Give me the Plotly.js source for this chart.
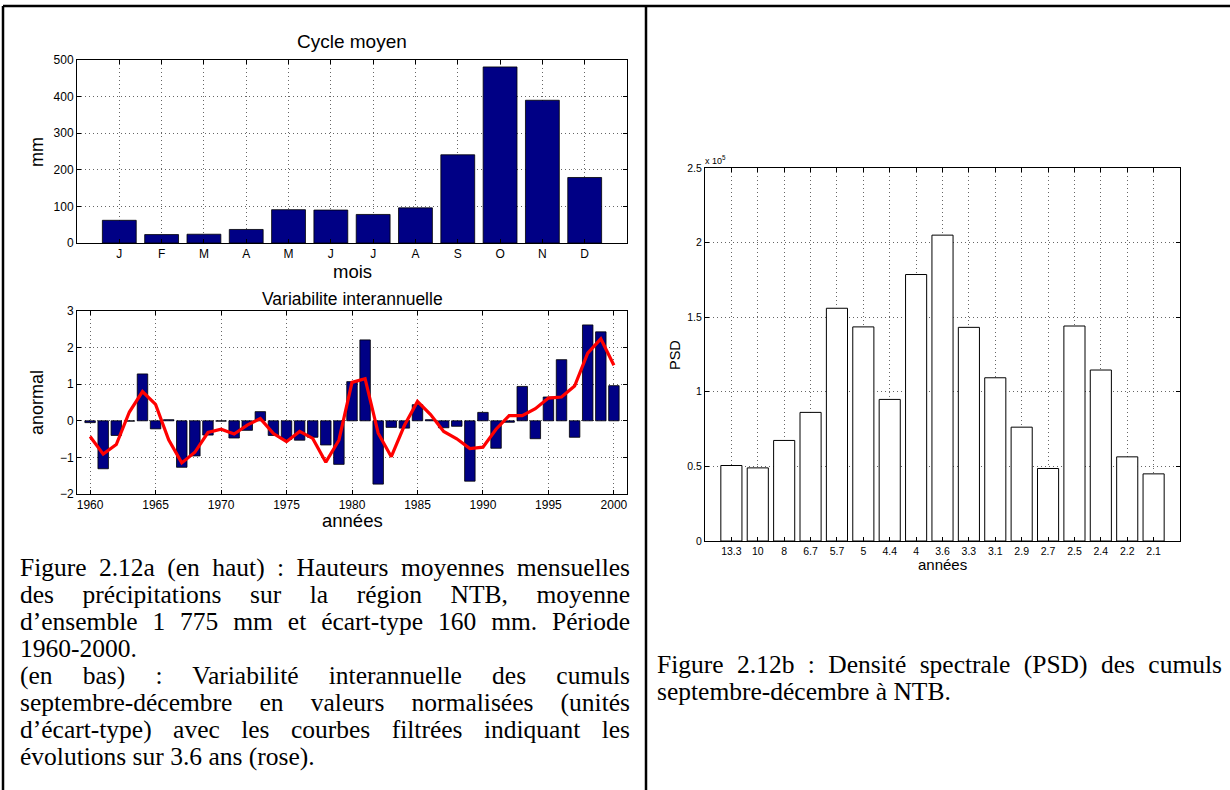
<!DOCTYPE html>
<html>
<head>
<meta charset="utf-8">
<script src="https://cdn.plot.ly/plotly-3.0.1.min.js"></script>
<style>
  html, body { margin: 0; padding: 0; background: #fff; }
  #page { position: relative; width: 1230px; height: 790px; overflow: hidden; }
  #chart { position: absolute; left: 0; top: 0; width: 1230px; height: 790px; }
  .cap { position: absolute; font-family: 'Liberation Serif', 'Times New Roman', serif;
         font-size: 25.5px; color: #000; white-space: nowrap; }
  .just { text-align: justify; text-align-last: justify; white-space: normal; }
</style>
</head>
<body>
<div id="page">
  <div id="chart"></div>
</div>
<script>
// Mean monthly rainfall (mm)
const monthLabels = ['J', 'F', 'M', 'A', 'M', 'J', 'J', 'A', 'S', 'O', 'N', 'D'];
const monthPos = [1, 2, 3, 4, 5, 6, 7, 8, 9, 10, 11, 12];
const monthlyMm = [62, 23, 24, 37, 91, 90, 78, 96, 241, 481, 390, 179];

// Sept-Dec totals, standardised anomalies, and the 3.6-year filtered curve
const years = [1960, 1961, 1962, 1963, 1964, 1965, 1966, 1967, 1968, 1969,
               1970, 1971, 1972, 1973, 1974, 1975, 1976, 1977, 1978, 1979,
               1980, 1981, 1982, 1983, 1984, 1985, 1986, 1987, 1988, 1989,
               1990, 1991, 1992, 1993, 1994, 1995, 1996, 1997, 1998, 1999, 2000];
const anomaly = [-0.05, -1.31, -0.40, -0.01, 1.28, -0.22, 0.03, -1.27, -0.96, -0.39,
                 -0.01, -0.47, -0.26, 0.25, -0.40, -0.51, -0.53, -0.45, -0.66, -1.19,
                 1.07, 2.21, -1.73, -0.18, -0.20, 0.44, 0.03, -0.19, -0.15, -1.65,
                 0.23, -0.75, -0.04, 0.94, -0.49, 0.65, 1.67, -0.45, 2.62, 2.43, 0.96];
const filtered = [-0.43, -0.91, -0.65, 0.24, 0.80, 0.45, -0.52, -1.15, -0.86, -0.32,
                  -0.23, -0.36, -0.12, 0.06, -0.35, -0.57, -0.29, -0.48, -1.13, -0.53,
                  1.05, 1.15, -0.34, -0.98, -0.13, 0.53, 0.17, -0.29, -0.49, -0.76,
                  -0.72, -0.23, 0.14, 0.14, 0.33, 0.62, 0.65, 0.95, 1.85, 2.24, 1.52];
const yearTicks = [1960, 1965, 1970, 1975, 1980, 1985, 1990, 1995, 2000];

// Power spectral density of the Sept-Dec totals, by period (years)
const periodLabels = ['13.3', '10', '8', '6.7', '5.7', '5', '4.4', '4', '3.6',
                      '3.3', '3.1', '2.9', '2.7', '2.5', '2.4', '2.2', '2.1'];
const periodPos = [1, 2, 3, 4, 5, 6, 7, 8, 9, 10, 11, 12, 13, 14, 15, 16, 17];
const psd = [50600, 49000, 67400, 86200, 156000, 143500, 94900, 178600, 205000,
             143200, 109400, 76300, 48600, 144100, 114600, 56400, 45000];
const psdTicks = [0, 50000, 100000, 150000, 200000, 250000];
const psdTickText = ['0', '0.5', '1', '1.5', '2', '2.5'];

const W = 1230, H = 790;
const fx = p => p / W;
const fy = p => 1 - p / H;

const sans = 'Liberation Sans, Arial, Helvetica, sans-serif';

function boxAxis(extra) {
  return Object.assign({
    showline: true, linecolor: '#000', linewidth: 1, mirror: 'ticks',
    ticks: 'inside', ticklen: 4, tickcolor: '#000', tickwidth: 1,
    showgrid: true, gridcolor: '#666', gridwidth: 1, griddash: '1px,3px',
    zeroline: false, fixedrange: true,
    tickfont: { family: sans, size: 12, color: '#000' }
  }, extra);
}

const traces = [
  {
    type: 'bar', x: monthPos, y: monthlyMm, xaxis: 'x', yaxis: 'y', width: 0.8,
    marker: { color: '#000085', line: { color: '#000', width: 0.8 } }, hoverinfo: 'skip'
  },
  {
    type: 'bar', x: years, y: anomaly, xaxis: 'x2', yaxis: 'y2', width: 0.8,
    marker: { color: '#000085', line: { color: '#000', width: 0.8 } }, hoverinfo: 'skip'
  },
  {
    type: 'scatter', mode: 'lines', x: years, y: filtered, xaxis: 'x2', yaxis: 'y2',
    line: { color: '#ff0000', width: 3.2 }, hoverinfo: 'skip'
  },
  {
    type: 'bar', x: periodPos, y: psd, xaxis: 'x3', yaxis: 'y3', width: 0.8,
    marker: { color: '#ffffff', line: { color: '#000', width: 1 } }, hoverinfo: 'skip'
  }
];

const layout = {
  width: W, height: H, showlegend: false,
  margin: { l: 0, r: 0, t: 0, b: 0 },
  paper_bgcolor: '#fff', plot_bgcolor: '#fff',
  bargap: 0,
  xaxis: boxAxis({ domain: [fx(77), fx(627)], anchor: 'y', range: [0, 13],
                   tickmode: 'array', tickvals: monthPos, ticktext: monthLabels }),
  yaxis: boxAxis({ domain: [fy(243), fy(60)], anchor: 'x', range: [0, 500], dtick: 100 }),
  xaxis2: boxAxis({ domain: [fx(77), fx(627)], anchor: 'y2', range: [1959, 2001],
                    tickmode: 'array', tickvals: yearTicks }),
  yaxis2: boxAxis({ domain: [fy(494), fy(311)], anchor: 'x2', range: [-2, 3], dtick: 1,
                    tickformat: 'd' }),
  xaxis3: boxAxis({ domain: [fx(705), fx(1180)], anchor: 'y3', range: [0, 18],
                    tickmode: 'array', tickvals: periodPos, ticktext: periodLabels,
                    tickfont: { family: sans, size: 10.5, color: '#000' } }),
  yaxis3: boxAxis({ domain: [fy(541), fy(168)], anchor: 'x3', range: [0, 250000],
                    tickmode: 'array', tickvals: psdTicks, ticktext: psdTickText,
                    tickfont: { family: sans, size: 10.5, color: '#000' } }),
  annotations: [
    { text: 'Cycle moyen', x: fx(352), y: fy(42), size: 19 },
    { text: 'mois', x: fx(352), y: fy(271), size: 18.5 },
    { text: 'mm', x: fx(37), y: fy(152), size: 18, textangle: -90 },
    { text: 'Variabilite interannuelle', x: fx(352), y: fy(299), size: 17.5 },
    { text: 'années', x: fx(352), y: fy(520), size: 18.5 },
    { text: 'anormal', x: fx(37), y: fy(403), size: 18, textangle: -90 },
    { text: 'années', x: fx(942), y: fy(564), size: 15 },
    { text: 'PSD', x: fx(675), y: fy(355), size: 14.5, textangle: -90 },
    { text: 'x 10<sup>5</sup>', x: fx(703), y: fy(160), size: 9, xanchor: 'left' }
  ].map(a => ({
    text: a.text, xref: 'paper', yref: 'paper', x: a.x, y: a.y,
    xanchor: a.xanchor || 'center', yanchor: 'middle', showarrow: false,
    textangle: a.textangle || 0,
    font: { family: sans, size: a.size, color: '#000' }
  })),
  shapes: [
    { x0: fx(3), x1: 1, y0: fy(6), y1: fy(6) },
    { x0: fx(3), x1: fx(3), y0: fy(6), y1: 0 },
    { x0: fx(646), x1: fx(646), y0: fy(6), y1: 0 }
  ].map(s => Object.assign({ type: 'line', xref: 'paper', yref: 'paper',
                              line: { color: '#000', width: 2.5 } }, s))
};

Plotly.newPlot('chart', traces, layout, { staticPlot: true, displayModeBar: false });

// Figure captions, one div per printed line
const leftCaption = [
  ['Figure 2.12a (en haut) : Hauteurs moyennes mensuelles', true],
  ['des précipitations sur la région NTB, moyenne', true],
  ['d’ensemble 1 775 mm et écart-type 160 mm. Période', true],
  ['1960-2000.', false],
  ['(en bas) : Variabilité interannuelle des cumuls', true],
  ['septembre-décembre en valeurs normalisées (unités', true],
  ['d’écart-type) avec les courbes filtrées indiquant les', true],
  ['évolutions sur 3.6 ans (rose).', false]
];
const rightCaption = [
  ['Figure 2.12b : Densité spectrale (PSD) des cumuls', true],
  ['septembre-décembre à NTB.', false]
];

const page = document.getElementById('page');
function addLines(lines, left, width, firstCenter, pitch) {
  lines.forEach(([txt, just], i) => {
    const d = document.createElement('div');
    d.className = 'cap' + (just ? ' just' : '');
    d.style.left = left + 'px';
    d.style.width = width + 'px';
    d.style.height = pitch + 'px';
    d.style.lineHeight = pitch + 'px';
    d.style.top = (firstCenter + i * pitch - pitch / 2) + 'px';
    d.textContent = txt;
    page.appendChild(d);
  });
}
addLines(leftCaption, 20, 610, 567, 27);
addLines(rightCaption, 657, 565, 664, 27);
</script>
</body>
</html>
